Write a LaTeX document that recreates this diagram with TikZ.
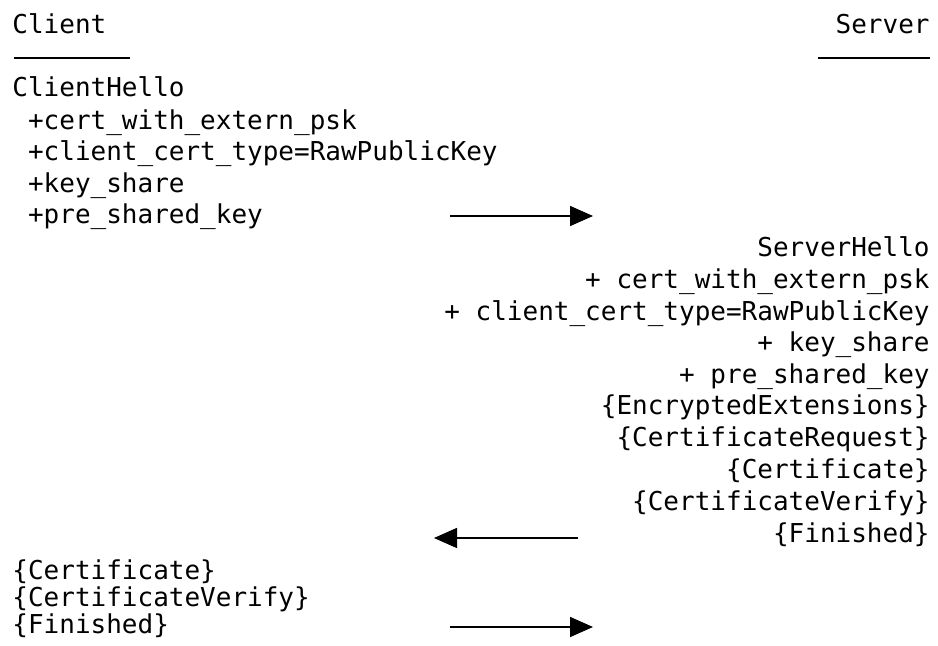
\documentclass[tikz,border=0pt]{standalone}
\usepackage{fontspec}
\setmonofont{DejaVu Sans Mono}
\usetikzlibrary{arrows.meta}

\tikzset{
  msg/.style={inner sep=0pt, font=\ttfamily\fontsize{13}{15}\selectfont},
  cli/.style={msg, anchor=base west},
  srv/.style={msg, anchor=base east},
  flow/.style={line width=0.75pt, -{Triangle[length=11.5pt,width=10pt]}},
}

\begin{document}
\begin{tikzpicture}[x=0.5pt,y=-0.5pt]
    \useasboundingbox (0,0) rectangle (938,646);

    % headings
    \node[cli] (client) at ( 12, 34) {Client};
    \node[srv] (server) at (930, 34) {Server};
    \coordinate (cl1) at ( 14,58);
    \coordinate (cl2) at (130,58);
    \coordinate (sv1) at (818,58);
    \coordinate (sv2) at (930,58);
    \draw[line width=0.75pt] (cl1) -- (cl2);
    \draw[line width=0.75pt] (sv1) -- (sv2);

    % first flight
    \node[cli] (chello) at ( 12, 97)  {ClientHello};
    \node[cli] (cpsk)   at ( 12, 130) {\ +cert\_with\_extern\_psk};
    \node[cli] (ctype)  at ( 12, 161) {\ +client\_cert\_type=RawPublicKey};
    \node[cli] (ckey)   at ( 12, 193) {\ +key\_share};
    \node[cli] (cpre)   at ( 12, 224) {\ +pre\_shared\_key};

    % server flight
    \node[srv] (shello) at (930, 257) {ServerHello};
    \node[srv] (spsk)   at (930, 289) {+ cert\_with\_extern\_psk};
    \node[srv] (stype)  at (930, 321) {+ client\_cert\_type=RawPublicKey};
    \node[srv] (skey)   at (930, 352) {+ key\_share};
    \node[srv] (spre)   at (930, 384) {+ pre\_shared\_key};
    \node[srv] (senc)   at (930, 415) {\{EncryptedExtensions\}};
    \node[srv] (sreq)   at (930, 447) {\{CertificateRequest\}};
    \node[srv] (scert)  at (930, 479) {\{Certificate\}};
    \node[srv] (sver)   at (930, 511) {\{CertificateVerify\}};
    \node[srv] (sfin)   at (930, 543) {\{Finished\}};

    % client second flight
    \node[cli] (ccert)  at ( 12, 580) {\{Certificate\}};
    \node[cli] (cver)   at ( 12, 607) {\{CertificateVerify\}};
    \node[cli] (cfin)   at ( 12, 634) {\{Finished\}};

    % arrows
    \coordinate (a1) at (450,216);
    \coordinate (b1) at (593,216);
    \coordinate (a2) at (578,538);
    \coordinate (b2) at (434,538);
    \coordinate (a3) at (450,627);
    \coordinate (b3) at (593,627);
    \draw[flow] (a1) -- (b1);
    \draw[flow] (a2) -- (b2);
    \draw[flow] (a3) -- (b3);
  \end{tikzpicture}
\end{document}
